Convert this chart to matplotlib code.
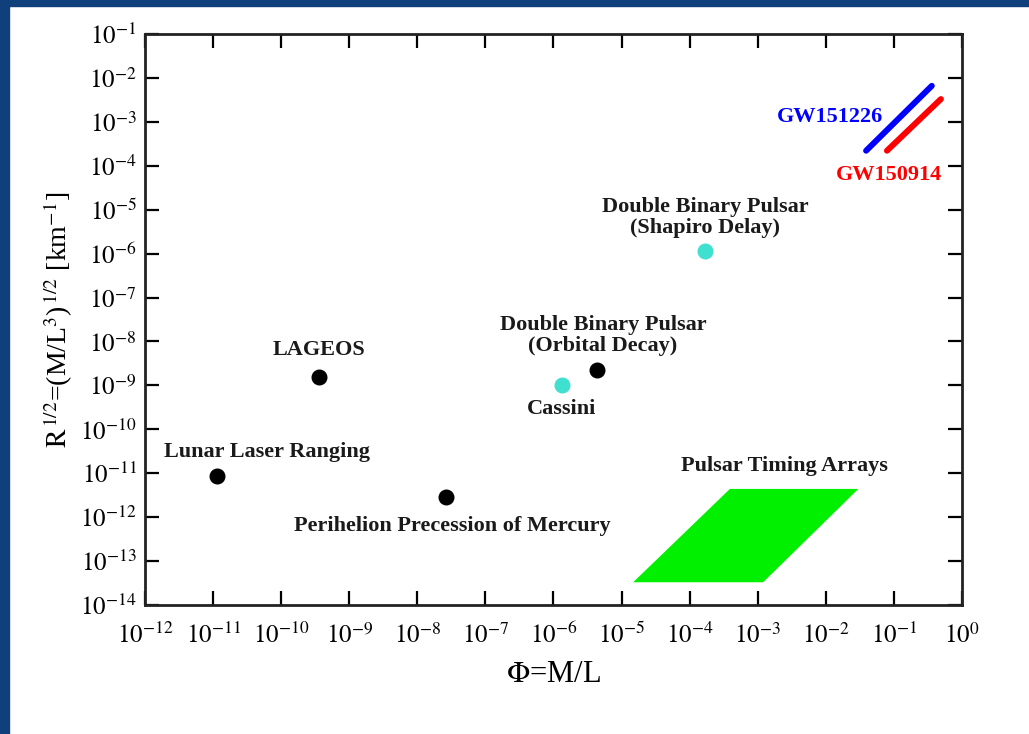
import numpy as np
import matplotlib
matplotlib.use('Agg')
import matplotlib.pyplot as plt
from matplotlib.patches import Rectangle

plt.rcParams['mathtext.fontset'] = 'stix'
plt.rcParams['font.family'] = 'Liberation Serif'

# tests: (phi, R^1/2)
lunar = (1.15e-11, 8.7e-12)
lageos = (3.6e-10, 1.55e-9)
mercury = (2.6e-8, 2.9e-12)
orbital = (4.4e-6, 2.3e-9)
cassini = (1.33e-6, 1.0e-9)
shapiro = (1.7e-4, 1.15e-6)

# gravitational wave events
gw151226_phi = [0.039, 0.36]
gw151226_r = [2.2e-4, 6.6e-3]
gw150914_phi = [0.079, 0.49]
gw150914_r = [2.2e-4, 3.3e-3]

# pulsar timing array region
pta_phi = [1.48e-5, 1.2e-3, 0.03, 3.9e-4]
pta_r = [3.3e-14, 3.3e-14, 4.4e-12, 4.4e-12]

fig = plt.figure(figsize=(10.29, 7.34), dpi=100)
ax = fig.add_axes([0.1409, 0.1757, 0.794, 0.778])

# slide frame
fig.patches.append(Rectangle((0, 0), 0.009, 1, transform=fig.transFigure,
                             color='#10407c', zorder=0))
fig.patches.append(Rectangle((0, 0.992), 1, 0.008, transform=fig.transFigure,
                             color='#10407c', zorder=0))

ax.set_xscale('log')
ax.set_yscale('log')
ax.set_xlim(1e-12, 1e0)
ax.set_ylim(1e-14, 1e-1)

ax.fill(pta_phi, pta_r, color='#00f000', lw=0)
ax.plot(gw151226_phi, gw151226_r, color='#0000ff', lw=4.3,
        solid_capstyle='round')
ax.plot(gw150914_phi, gw150914_r, color='#ff0000', lw=4.3,
        solid_capstyle='round')

black = [lunar, lageos, mercury, orbital]
cyan = [cassini, shapiro]
ax.plot([p[0] for p in black], [p[1] for p in black], 'o', color='black',
        ms=10.5, ls='none')
ax.plot([p[0] for p in cyan], [p[1] for p in cyan], 'o', color='#40e0d0',
        ms=10.5, ls='none')

fs = 16
lab = dict(fontsize=fs, fontweight='bold', color='#1a1a1a',
           ha='center', va='center', textcoords='offset points')
ax.annotate('Lunar Laser Ranging', lunar, xytext=(36, 17), **lab)
ax.annotate('LAGEOS', lageos, xytext=(0, 19.5), **lab)
ax.annotate('Perihelion Precession of Mercury', mercury, xytext=(5, -21), **lab)
ax.annotate('Cassini', cassini, xytext=(0, -17), **lab)
ax.annotate('Double Binary Pulsar\n(Orbital Decay)', orbital, xytext=(4, 24.5),
            linespacing=1.1, **lab)
ax.annotate('Double Binary Pulsar\n(Shapiro Delay)', shapiro, xytext=(0, 24),
            linespacing=1.1, **lab)
ax.text(2.5e-3, 1.45e-11, 'Pulsar Timing Arrays', fontsize=fs,
        fontweight='bold', color='#1a1a1a', ha='center', va='center')
ax.text(0.069, 1.29e-3, 'GW151226', fontsize=fs, fontweight='bold',
        color='#0000ff', ha='right', va='center')
ax.text(0.51, 6.2e-5, 'GW150914', fontsize=fs, fontweight='bold',
        color='#ff0000', ha='right', va='center')

ax.set_xticks([10.0**k for k in range(-12, 1)])
ax.set_yticks([10.0**k for k in range(-14, 0)])
ax.set_xticklabels([r'$10^{%d}$' % k for k in range(-12, 1)])
ax.set_yticklabels([r'$10^{%d}$' % k for k in range(-14, 0)])
ax.minorticks_off()
ax.tick_params(which='major', direction='in', length=10, width=1.6,
               top=True, right=True, labelsize=18)
ax.tick_params(axis='x', pad=13)
ax.tick_params(axis='y', pad=6)
for s in ax.spines.values():
    s.set_linewidth(2)
    s.set_color('#222222')

ax.set_xlabel(r'$\Phi$=M/L', fontsize=22, labelpad=8)
ax.set_ylabel(r'$\mathrm{R}^{\,1/2}$=(M/L$^{3}$)$^{\,1/2}$ [km$^{-1}$]',
              fontsize=20, labelpad=4)

fig.savefig('out.png', dpi=100)
